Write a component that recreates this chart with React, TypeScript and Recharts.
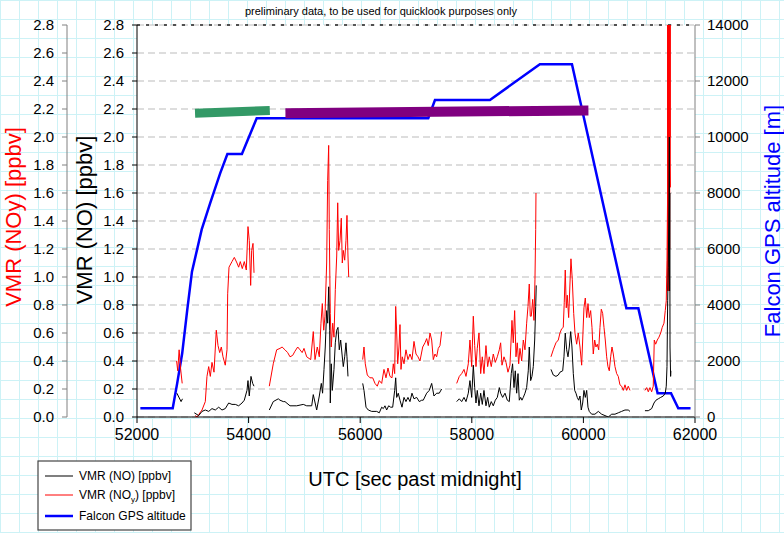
import { LineChart, Line, XAxis, YAxis, CartesianGrid, ReferenceLine } from "recharts";

type Pt = [number, number];
const FONT = '"Liberation Sans", Arial, sans-serif';

const timeTicks = [52000, 54000, 56000, 58000, 60000, 62000];
const vmrTicks = [0, 0.2, 0.4, 0.6, 0.8, 1.0, 1.2, 1.4, 1.6, 1.8, 2.0, 2.2, 2.4, 2.6, 2.8];
const altTicks = [0, 2000, 4000, 6000, 8000, 10000, 12000, 14000];

// VMR (NOy) [ppbv], one list per measured stretch
const noySegments: Pt[][] = [
  [[52710, 0.40], [52730, 0.33], [52755, 0.48], [52780, 0.35], [52810, 0.24]],
  [[53040, 0.01], [53080, 0.0], [53110, 0.02], [53165, 0.05], [53224, 0.11], [53254, 0.29], [53285, 0.36], [53314, 0.29],
   [53344, 0.39], [53380, 0.32], [53421, 0.62], [53452, 0.51], [53482, 0.46], [53511, 0.50], [53541, 0.43], [53582, 0.37],
   [53613, 0.48], [53625, 0.88], [53649, 1.07], [53702, 1.11], [53744, 1.14], [53792, 1.10], [53822, 1.07], [53851, 1.11],
   [53887, 1.06], [53923, 1.11], [53959, 1.05], [53989, 1.36], [54012, 1.26], [54037, 0.94], [54055, 1.19], [54079, 1.24],
   [54097, 1.03]],
  [[54371, 0.22], [54442, 0.38], [54503, 0.48], [54563, 0.49], [54600, 0.50], [54652, 0.48], [54700, 0.46], [54742, 0.43],
   [54790, 0.44], [54831, 0.47], [54880, 0.50], [54921, 0.48], [54960, 0.46], [54993, 0.49], [55041, 0.43], [55113, 0.41],
   [55159, 0.61], [55190, 0.41], [55231, 0.50], [55267, 0.43], [55297, 0.67], [55321, 0.81], [55346, 0.62], [55369, 0.72],
   [55399, 1.10], [55417, 1.69], [55435, 1.94], [55446, 1.34], [55464, 0.74], [55482, 0.50], [55507, 0.67], [55530, 0.57],
   [55554, 0.91], [55579, 1.15], [55597, 1.53], [55614, 1.19], [55638, 1.26], [55661, 1.42], [55679, 1.10], [55697, 1.19],
   [55722, 1.12], [55745, 1.26], [55763, 1.44], [55781, 1.15], [55794, 1.00]],
  [[56045, 0.41], [56068, 0.50], [56091, 0.38], [56127, 0.30], [56175, 0.28], [56224, 0.28], [56265, 0.24], [56306, 0.22],
   [56342, 0.26], [56385, 0.24], [56426, 0.34], [56462, 0.28], [56498, 0.35], [56534, 0.29], [56570, 0.28], [56593, 0.38],
   [56618, 0.31], [56636, 0.79], [56654, 0.60], [56672, 0.38], [56695, 0.50], [56713, 0.66], [56731, 0.34], [56754, 0.43],
   [56785, 0.38], [56820, 0.48], [56856, 0.41], [56892, 0.45], [56928, 0.41], [56964, 0.54], [57000, 0.45], [57036, 0.43],
   [57071, 0.40], [57120, 0.50], [57161, 0.53], [57191, 0.56], [57220, 0.51], [57251, 0.60], [57281, 0.55], [57310, 0.41],
   [57340, 0.45], [57370, 0.43], [57399, 0.49], [57430, 0.51], [57460, 0.61]],
  [[57729, 0.24], [57776, 0.29], [57819, 0.31], [57860, 0.34], [57896, 0.29], [57937, 0.38], [57967, 0.55], [57998, 0.36],
   [58027, 0.72], [58052, 0.51], [58075, 0.36], [58098, 0.49], [58129, 0.60], [58159, 0.31], [58188, 0.43], [58218, 0.31],
   [58254, 0.51], [58284, 0.36], [58313, 0.43], [58349, 0.36], [58385, 0.45], [58421, 0.39], [58457, 0.43], [58493, 0.48],
   [58517, 0.53], [58541, 0.37], [58577, 0.43], [58613, 0.39], [58648, 0.32], [58684, 0.37], [58720, 0.69], [58743, 0.53],
   [58768, 0.76], [58792, 0.43], [58815, 0.53], [58840, 0.38], [58863, 0.49], [58894, 0.40], [58923, 0.55], [58953, 0.48],
   [58983, 0.67], [59007, 0.79], [59030, 0.95], [59048, 0.72], [59066, 0.72], [59091, 0.84], [59114, 0.69], [59132, 0.98],
   [59145, 1.34], [59150, 1.60]],
  [[59419, 0.43], [59460, 0.48], [59508, 0.53], [59550, 0.55], [59580, 0.60], [59610, 0.63], [59639, 0.64], [59657, 0.82],
   [59675, 1.05], [59693, 0.78], [59711, 0.87], [59736, 0.71], [59759, 0.95], [59777, 1.13], [59801, 0.98], [59826, 0.74],
   [59849, 0.60], [59879, 0.52], [59908, 0.60], [59939, 0.50], [59969, 0.37], [59987, 0.55], [60010, 0.78], [60034, 0.85],
   [60059, 0.71], [60082, 0.81], [60105, 0.71], [60130, 0.76], [60154, 0.64], [60177, 0.45], [60202, 0.55], [60225, 0.50],
   [60249, 0.52], [60274, 0.48], [60297, 0.64], [60321, 0.77], [60345, 0.74], [60369, 0.64], [60392, 0.55], [60417, 0.43],
   [60440, 0.36], [60464, 0.33], [60489, 0.43], [60512, 0.50], [60536, 0.45], [60566, 0.36], [60596, 0.31], [60625, 0.29],
   [60655, 0.23], [60685, 0.22], [60715, 0.19], [60745, 0.23], [60775, 0.19], [60804, 0.22], [60835, 0.19]],
  [[61103, 0.19], [61134, 0.21], [61163, 0.18], [61193, 0.21], [61223, 0.18], [61252, 0.22], [61270, 0.55], [61295, 0.52],
   [61324, 0.55], [61354, 0.57], [61385, 0.60], [61413, 0.64], [61444, 0.67], [61467, 0.76], [61485, 0.83], [61498, 1.12],
   [61508, 1.55], [61512, 3.2], [61515, 0.9], [61518, 3.2], [61521, 1.0], [61524, 3.2], [61527, 1.3], [61530, 3.2],
   [61533, 0.9], [61536, 3.2], [61539, 1.0], [61542, 3.2], [61545, 1.2], [61548, 3.2], [61551, 2.0], [61554, 3.2],
   [61557, 1.8], [61560, 1.64]],
];

// VMR (NO) [ppbv]
const noSegments: Pt[][] = [
  [[52715, 0.17], [52740, 0.15], [52790, 0.11], [52815, 0.13]],
  [[53027, 0.03], [53106, 0.01], [53165, 0.04], [53224, 0.05], [53285, 0.04], [53344, 0.06], [53403, 0.05], [53464, 0.07],
   [53523, 0.05], [53582, 0.06], [53643, 0.10], [53702, 0.09], [53762, 0.09], [53822, 0.08], [53882, 0.10], [53923, 0.12],
   [53971, 0.19], [53989, 0.26], [54012, 0.15], [54043, 0.29], [54073, 0.24], [54097, 0.22]],
  [[54371, 0.05], [54442, 0.11], [54532, 0.13], [54563, 0.12], [54622, 0.11], [54652, 0.11], [54742, 0.08], [54862, 0.08],
   [54980, 0.09], [55041, 0.08], [55131, 0.08], [55159, 0.16], [55220, 0.05], [55267, 0.15], [55303, 0.24], [55326, 0.17],
   [55351, 0.34], [55374, 0.50], [55399, 0.76], [55417, 0.67], [55435, 0.93], [55453, 0.62], [55464, 0.10], [55482, 0.38],
   [55500, 0.19], [55530, 0.34], [55554, 0.53], [55579, 0.62], [55602, 0.64], [55625, 0.48], [55650, 0.55], [55674, 0.45],
   [55697, 0.36], [55722, 0.43], [55745, 0.53], [55763, 0.43], [55781, 0.29]],
  [[56045, 0.24], [56068, 0.19], [56104, 0.07], [56145, 0.05], [56206, 0.04], [56295, 0.04], [56342, 0.03], [56385, 0.07],
   [56414, 0.06], [56444, 0.08], [56474, 0.05], [56510, 0.08], [56546, 0.07], [56582, 0.07], [56618, 0.19], [56636, 0.28],
   [56654, 0.14], [56682, 0.17], [56713, 0.12], [56749, 0.07], [56785, 0.14], [56820, 0.11], [56856, 0.14], [56892, 0.11],
   [56928, 0.17], [56964, 0.13], [57012, 0.14], [57059, 0.11], [57102, 0.12], [57130, 0.12], [57191, 0.17], [57238, 0.19],
   [57281, 0.24], [57322, 0.15], [57370, 0.17], [57417, 0.17], [57460, 0.20]],
  [[57729, 0.11], [57776, 0.13], [57819, 0.11], [57860, 0.14], [57896, 0.11], [57937, 0.17], [57967, 0.26], [57998, 0.14],
   [58027, 0.37], [58052, 0.21], [58075, 0.10], [58098, 0.19], [58129, 0.08], [58159, 0.17], [58188, 0.09], [58218, 0.19],
   [58254, 0.08], [58284, 0.14], [58313, 0.07], [58349, 0.11], [58385, 0.08], [58421, 0.12], [58457, 0.14], [58493, 0.21],
   [58517, 0.17], [58553, 0.14], [58595, 0.17], [58636, 0.12], [58672, 0.11], [58707, 0.31], [58731, 0.38], [58756, 0.21],
   [58779, 0.33], [58804, 0.17], [58828, 0.31], [58851, 0.12], [58876, 0.14], [58899, 0.12], [58923, 0.14], [58953, 0.17],
   [58983, 0.21], [59012, 0.33], [59030, 0.50], [59055, 0.26], [59078, 0.29], [59102, 0.36], [59127, 0.55], [59145, 0.79],
   [59155, 0.94]],
  [[59419, 0.34], [59460, 0.30], [59508, 0.29], [59550, 0.30], [59580, 0.32], [59629, 0.33], [59652, 0.43], [59675, 0.60],
   [59700, 0.48], [59724, 0.43], [59747, 0.50], [59772, 0.61], [59795, 0.50], [59819, 0.31], [59844, 0.19], [59867, 0.17],
   [59890, 0.14], [59915, 0.12], [59939, 0.15], [59962, 0.05], [59987, 0.10], [60010, 0.19], [60034, 0.14], [60059, 0.19],
   [60082, 0.07], [60105, 0.04], [60148, 0.02], [60207, 0.02], [60267, 0.04], [60327, 0.02], [60387, 0.01], [60446, 0.0],
   [60507, 0.02], [60566, 0.02], [60625, 0.03], [60685, 0.04], [60745, 0.05], [60804, 0.05], [60835, 0.04]],
  [[61103, 0.045], [61163, 0.045], [61223, 0.06], [61265, 0.10], [61300, 0.12], [61342, 0.13], [61385, 0.14], [61432, 0.15],
   [61467, 0.17], [61485, 0.22], [61498, 0.36], [61510, 0.83], [61521, 1.07], [61534, 1.55], [61540, 2.0], [61544, 0.9],
   [61548, 1.6], [61552, 0.5], [61563, 0.29], [61568, 0.33]],
];

// Falcon GPS altitude [m]
const altitude: Pt[] = [
  [52060, 310], [52640, 310], [52720, 1200], [52810, 2275], [52900, 3820], [52985, 5190], [53160, 6700], [53310, 7630],
  [53490, 8700], [53620, 9390], [53880, 9390], [54145, 10670], [57220, 10670], [57340, 11320], [58325, 11320],
  [59220, 12600], [59795, 12600], [60770, 3880], [60985, 3880], [61330, 850], [61570, 850], [61700, 310], [61920, 310],
];

// flight-leg markers
const legGreen: Pt[] = [[53040, 2.17], [54380, 2.19]];
const legPurple: Pt[] = [[54660, 2.17], [60090, 2.19]];

function toRows(segs: Pt[][]) {
  const rows: { t: number; v: number | null }[] = [];
  segs.forEach((seg, i) => {
    if (i > 0) rows.push({ t: seg[0][0] - 1, v: null });
    seg.forEach(([t, v]) => rows.push({ t, v }));
  });
  return rows;
}

const noyRows = toRows(noySegments);
const noRows = toRows(noSegments);
const altRows = toRows([altitude]);
const greenRows = toRows([legGreen]);
const purpleRows = toRows([legPurple]);

const tickStyle = { fill: "#000", fontSize: 15, fontFamily: FONT };

export default function App() {
  return (
    <div
      style={{
        position: "absolute", left: 0, top: 0, width: 784, height: 533, backgroundColor: "#fff",
        backgroundImage:
          "linear-gradient(to right, #cdf2f6 1px, transparent 1px), linear-gradient(to bottom, #cdf2f6 1px, transparent 1px)",
        backgroundSize: "19px 19px", fontFamily: FONT,
      }}
    >
      <LineChart width={784} height={533} margin={{ top: 25, right: 0, bottom: 86, left: 0 }}>
        <CartesianGrid yAxisId="no" vertical={false} stroke="#bbbbbb" strokeDasharray="7 4" fill="#fff" />
        <XAxis
          dataKey="t" type="number" domain={[52000, 62000]} ticks={timeTicks} interval={0} allowDataOverflow
          height={30} tickSize={6} tickMargin={6} axisLine={{ stroke: "#000" }} tickLine={{ stroke: "#000" }}
          tick={{ ...tickStyle, fontSize: 16 }}
        />
        <YAxis
          yAxisId="no" orientation="left" width={70} domain={[0, 2.8]} ticks={vmrTicks} interval={0} allowDataOverflow
          tickFormatter={(v: number) => v.toFixed(1)} tickSize={5} tickMargin={8}
          axisLine={{ stroke: "#000" }} tickLine={{ stroke: "#000" }} tick={tickStyle}
        />
        <YAxis
          yAxisId="noy" orientation="left" width={67} domain={[0, 2.8]} ticks={vmrTicks} interval={0} allowDataOverflow
          tickFormatter={(v: number) => v.toFixed(1)} tickSize={5} tickMargin={8}
          axisLine={{ stroke: "#808080" }} tickLine={{ stroke: "#808080" }} tick={tickStyle}
        />
        <YAxis
          yAxisId="alt" orientation="right" width={89} domain={[0, 14000]} ticks={altTicks} interval={0} allowDataOverflow
          tickSize={5} tickMargin={7} axisLine={{ stroke: "#808080" }} tickLine={{ stroke: "#808080" }} tick={tickStyle}
        />
        <ReferenceLine yAxisId="no" y={2.8} stroke="#222" strokeDasharray="3 6" strokeWidth={1.5} />
        <Line yAxisId="alt" data={altRows} dataKey="v" stroke="#0000ff" strokeWidth={2.5} dot={false} activeDot={false} isAnimationActive={false} />
        <Line yAxisId="noy" data={noyRows} dataKey="v" stroke="#ff0000" strokeWidth={1} dot={false} activeDot={false} isAnimationActive={false} />
        <Line yAxisId="no" data={noRows} dataKey="v" stroke="#000" strokeWidth={1} dot={false} activeDot={false} isAnimationActive={false} />
        <Line yAxisId="no" data={greenRows} dataKey="v" stroke="#339966" strokeWidth={9} dot={false} activeDot={false} isAnimationActive={false} />
        <Line yAxisId="no" data={purpleRows} dataKey="v" stroke="#800080" strokeWidth={10} dot={false} activeDot={false} isAnimationActive={false} />
      </LineChart>

      <svg width={784} height={533} style={{ position: "absolute", left: 0, top: 0, pointerEvents: "none" }} fontFamily={FONT}>
        <text x={381} y={15} fontSize={11} textAnchor="middle" fill="#000">
          preliminary data, to be used for quicklook purposes only
        </text>
        <text x={21} y={217} fontSize={22} textAnchor="middle" fill="#ff0000" transform="rotate(-90 21 217)">
          VMR (NOy) [ppbv]
        </text>
        <text x={92} y={220} fontSize={22} textAnchor="middle" fill="#000" transform="rotate(-90 92 220)">
          VMR (NO) [ppbv]
        </text>
        <text x={780} y={221} fontSize={22} textAnchor="middle" fill="#0000ff" transform="rotate(-90 780 221)">
          Falcon GPS altitude [m]
        </text>
        <text x={415} y={486} fontSize={20} textAnchor="middle" fill="#000">
          UTC [sec past midnight]
        </text>
      </svg>

      <svg width={155} height={71} style={{ position: "absolute", left: 37, top: 460 }} fontFamily={FONT} fontSize={12}>
        <rect x={1} y={1} width={153} height={69} fill="#fff" stroke="#444" strokeWidth={1.2} />
        <line x1={8} x2={36} y1={16} y2={16} stroke="#555" strokeWidth={1.5} />
        <text x={42} y={20} fill="#000">VMR (NO) [ppbv]</text>
        <line x1={8} x2={36} y1={35} y2={35} stroke="#ff0000" strokeWidth={1} />
        <text x={42} y={39} fill="#000">
          VMR (NO<tspan fontSize={8} dy={3}>y</tspan><tspan dy={-3}>) [ppbv]</tspan>
        </text>
        <line x1={8} x2={36} y1={56} y2={56} stroke="#0000ff" strokeWidth={2.5} />
        <text x={42} y={60} fill="#000">Falcon GPS altitude</text>
      </svg>
    </div>
  );
}
